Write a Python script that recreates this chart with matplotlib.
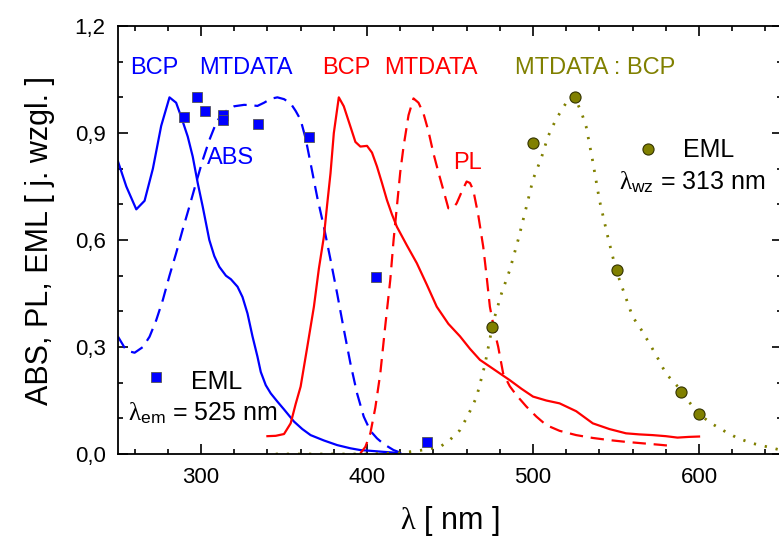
import matplotlib
matplotlib.use("Agg")
import matplotlib.pyplot as plt
from matplotlib.ticker import MultipleLocator, FuncFormatter

plt.rcParams['font.family'] = ['Liberation Sans', 'DejaVu Sans']
plt.rcParams['mathtext.fontset'] = 'custom'
plt.rcParams['mathtext.rm'] = 'Liberation Serif'
plt.rcParams['mathtext.it'] = 'Liberation Serif:italic'
plt.rcParams['mathtext.sf'] = 'Liberation Sans'

# BCP absorption (solid blue)
bcp_abs_x = [250, 255, 261, 266, 271, 276, 281, 285, 288, 292, 295, 298, 301, 305, 308, 311, 315,
             318, 322, 325, 328, 331, 334, 336, 339, 342, 346, 350, 356, 361, 366, 374, 382, 390,
             396, 402, 410, 416, 420]
bcp_abs_y = [0.82, 0.75, 0.686, 0.71, 0.8, 0.92, 1.0, 0.985, 0.946, 0.89, 0.834, 0.76, 0.694, 0.6,
             0.555, 0.525, 0.5, 0.49, 0.469, 0.44, 0.394, 0.33, 0.273, 0.23, 0.193, 0.17, 0.147,
             0.125, 0.091, 0.07, 0.053, 0.038, 0.025, 0.016, 0.011, 0.009, 0.006, 0.004, 0.002]

# MTDATA absorption (dashed blue)
mt_abs_x = [250, 255, 260, 265, 269, 273, 277, 281, 285, 289, 293, 297, 301, 305, 309, 312, 316,
            320, 326, 330, 334, 338, 342, 346, 350, 354, 357, 360, 363, 366, 370, 374, 378, 382,
            386, 390, 394, 398, 402, 406, 410, 416, 420]
mt_abs_y = [0.329, 0.29, 0.284, 0.3, 0.329, 0.375, 0.432, 0.5, 0.563, 0.63, 0.694, 0.76, 0.824,
            0.88, 0.927, 0.95, 0.965, 0.975, 0.979, 0.978, 0.976, 0.985, 0.996, 1.0, 0.995, 0.983,
            0.962, 0.937, 0.885, 0.815, 0.72, 0.637, 0.545, 0.45, 0.35, 0.254, 0.17, 0.105,
            0.065, 0.044, 0.028, 0.011, 0.004]

# BCP photoluminescence (solid red)
bcp_pl_x = [340, 345, 350, 354, 357, 360, 364, 368, 371, 374, 376, 378, 380, 383, 386, 390, 393,
            396, 400, 403, 406, 409, 412, 415, 418, 424, 430, 436, 442, 449, 456, 462, 468, 474,
            480, 486, 493, 500, 508, 516, 526, 536, 546, 556, 564, 572, 580, 587, 594, 600]
bcp_pl_y = [0.05, 0.051, 0.056, 0.086, 0.14, 0.189, 0.3, 0.413, 0.52, 0.609, 0.7, 0.787, 0.9,
            1.0, 0.975, 0.918, 0.875, 0.862, 0.864, 0.845, 0.806, 0.76, 0.712, 0.672, 0.637, 0.585,
            0.535, 0.475, 0.413, 0.365, 0.33, 0.295, 0.264, 0.245, 0.226, 0.207, 0.183, 0.161,
            0.15, 0.142, 0.12, 0.086, 0.07, 0.058, 0.055, 0.053, 0.05, 0.046, 0.048, 0.049]

# MTDATA photoluminescence (dashed red)
mt_pl_x = [396, 399, 402, 405, 408, 411, 414, 416, 418, 420, 422, 425, 428, 431, 434, 437, 440,
           443, 446, 449, 452, 454, 457, 460, 462, 464, 467, 470, 472, 474, 477, 479, 482, 486,
           490, 496, 502, 508, 516, 526, 536, 546, 556, 566, 576, 585]
mt_pl_y = [0.002, 0.02, 0.058, 0.13, 0.226, 0.36, 0.488, 0.6, 0.694, 0.79, 0.862, 0.95, 0.997,
           0.985, 0.955, 0.905, 0.843, 0.79, 0.74, 0.689, 0.69, 0.703, 0.735, 0.764, 0.76, 0.74,
           0.67, 0.581, 0.5, 0.413, 0.34, 0.301, 0.226, 0.19, 0.165, 0.133, 0.105, 0.081, 0.065,
           0.053, 0.045, 0.039, 0.034, 0.03, 0.026, 0.022]

# MTDATA:BCP EML excitation (dotted olive)
eml_x = [345, 360, 380, 400, 420, 432, 444, 450, 456, 461, 466, 471, 476, 481, 486, 491, 496,
         500, 505, 509, 513, 516, 520, 525, 529, 532, 536, 540, 545, 550, 555, 560, 565, 570,
         575, 580, 585, 590, 595, 600, 607, 615, 623, 632, 644, 650]
eml_y = [0.0, 0.0, 0.0, 0.0, 0.003, 0.01, 0.02, 0.04, 0.067, 0.11, 0.16, 0.25, 0.37, 0.45, 0.516,
         0.6, 0.693, 0.77, 0.83, 0.89, 0.93, 0.955, 0.985, 1.0, 0.96, 0.918, 0.82, 0.712, 0.61,
         0.516, 0.45, 0.385, 0.35, 0.311, 0.27, 0.226, 0.2, 0.175, 0.14, 0.112, 0.087, 0.065,
         0.045, 0.03, 0.017, 0.01]

# EML points
sq_x = [289.8, 297.4, 302.4, 313.4, 313.4, 334.2, 365.1, 405.2, 436.0]
sq_y = [0.944, 1.0, 0.962, 0.95, 0.937, 0.925, 0.888, 0.497, 0.035]
dot_x = [475.1, 500.2, 525.3, 550.4, 589.2, 600.2]
dot_y = [0.355, 0.871, 1.0, 0.516, 0.175, 0.112]

OLIVE = '#808000'

fig = plt.figure(figsize=(7.79, 5.41), dpi=100)
ax = fig.add_axes([0.1515, 0.1608, 0.8524, 0.7911])

ax.plot(bcp_abs_x, bcp_abs_y, color='blue', lw=1.6)
ax.plot(mt_abs_x, mt_abs_y, color='blue', lw=1.6, dashes=(6, 3.5))
ax.plot(bcp_pl_x, bcp_pl_y, color='red', lw=1.6)
ax.plot(mt_pl_x, mt_pl_y, color='red', lw=1.6, dashes=(6, 3.5))
ax.plot(eml_x, eml_y, color=OLIVE, lw=2, linestyle=(0, (0.8, 3.2)))
ax.plot(sq_x, sq_y, 's', color='blue', ms=7.5, mec='#555555', mew=0.6)
ax.plot(dot_x, dot_y, 'o', color=OLIVE, ms=8, mec='#333300', mew=0.8)

# legend markers
ax.plot([272.7], [0.217], 's', color='blue', ms=7.5, mec='#555555', mew=0.6)
ax.plot([569.1], [0.855], 'o', color=OLIVE, ms=8, mec='#333300', mew=0.8)

fs = 17
ax.text(257, 1.082, 'BCP', color='blue', fontsize=fs, va='center')
ax.text(299, 1.082, 'MTDATA', color='blue', fontsize=fs, va='center')
ax.text(373, 1.082, 'BCP', color='red', fontsize=fs, va='center')
ax.text(410, 1.082, 'MTDATA', color='red', fontsize=fs, va='center')
ax.text(489, 1.082, 'MTDATA : BCP', color=OLIVE, fontsize=fs, va='center')
ax.text(303.4, 0.829, 'ABS', color='blue', fontsize=fs, va='center')
ax.text(451.6, 0.816, 'PL', color='red', fontsize=fs, va='center')
ax.text(294, 0.203, 'EML', color='black', fontsize=18, va='center')
ax.text(256, 0.115, r'$\mathrm{\lambda}_{\mathsf{em}}$ = 525 nm', color='black', fontsize=18,
        va='center')
ax.text(590.4, 0.852, 'EML', color='black', fontsize=18, va='center')
ax.text(551.8, 0.763, r'$\mathrm{\lambda}_{\mathsf{wz}}$ = 313 nm', color='black', fontsize=18,
        va='center')

ax.set_xlim(250, 650)
ax.set_ylim(0, 1.2)
ax.xaxis.set_major_locator(MultipleLocator(100))
ax.xaxis.set_minor_locator(MultipleLocator(20))
ax.yaxis.set_major_locator(MultipleLocator(0.3))
ax.yaxis.set_minor_locator(MultipleLocator(0.1))
ax.yaxis.set_major_formatter(FuncFormatter(lambda v, p: f'{v:.1f}'.replace('.', ',')))

ax.tick_params(which='both', direction='in', top=True, right=True, width=1.2, labelsize=16)
ax.tick_params(which='major', length=7, pad=9)
ax.tick_params(which='minor', length=3.5)
for s in ax.spines.values():
    s.set_linewidth(1.3)

ax.set_xlabel(r'$\mathrm{\lambda}$ [ nm ]', fontsize=22, labelpad=12)
ax.set_ylabel('ABS, PL, EML [ j. wzgl. ]', fontsize=22, labelpad=14)

fig.savefig('out.png', dpi=100)
